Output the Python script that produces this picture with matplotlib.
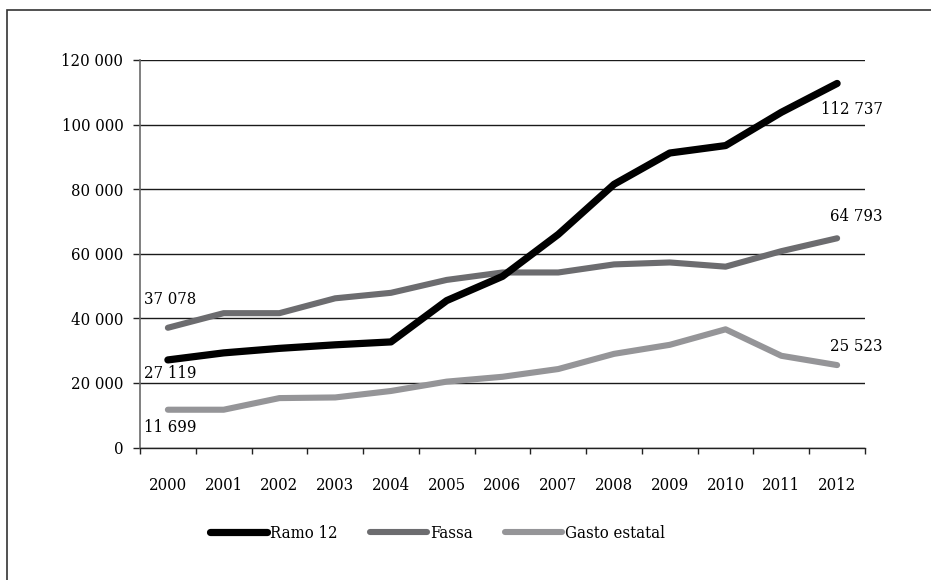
import matplotlib
matplotlib.use("Agg")
import matplotlib.pyplot as plt
from matplotlib.patches import Rectangle

# data (pesos, thousands)
years = [str(y) for y in range(2000, 2013)]
ramo12 = [27119, 29300, 30700, 31800, 32700, 45500, 53000, 66000, 81500, 91200, 93500, 103800, 112737]
fassa = [37078, 41600, 41600, 46200, 47900, 51900, 54200, 54200, 56700, 57300, 56000, 60800, 64793]
gasto = [11699, 11699, 15300, 15500, 17500, 20400, 21900, 24300, 29000, 31800, 36600, 28400, 25523]
y_ticks = [0, 20000, 40000, 60000, 80000, 100000, 120000]

plt.rcParams['font.family'] = ['DejaVu Serif']
plt.rcParams['font.stretch'] = 'condensed'
plt.rcParams['font.size'] = 12

fig = plt.figure(figsize=(9.31, 5.8), dpi=100)
ax = fig.add_axes([140 / 931, 1 - 447.5 / 580, 725 / 931, 387.5 / 580])

x = list(range(len(years)))
l1, = ax.plot(x, ramo12, color='black', lw=5.2, solid_capstyle='round', solid_joinstyle='round', label='Ramo 12', zorder=5)
l2, = ax.plot(x, fassa, color='#6c6c6f', lw=4.4, solid_capstyle='round', solid_joinstyle='round', label='Fassa', zorder=4)
l3, = ax.plot(x, gasto, color='#959598', lw=4.4, solid_capstyle='round', solid_joinstyle='round', label='Gasto estatal', zorder=3)

ax.set_xlim(-0.5, len(years) - 0.5)
ax.set_ylim(0, 120000)
ax.set_yticks(y_ticks)
ax.set_yticklabels([f"{v:,}".replace(",", " ") for v in y_ticks])
ax.yaxis.grid(True, color='#1a1a1a', lw=1.0)
ax.set_axisbelow(True)

# category boundaries get the tick marks, labels sit in the middle
ax.set_xticks([i - 0.5 for i in range(len(years) + 1)])
ax.set_xticklabels([])
ax.set_xticks(x, minor=True)
ax.set_xticklabels(years, minor=True)
ax.tick_params(axis='x', which='major', direction='out', length=4.5, width=1, color='#222222')
ax.tick_params(axis='x', which='minor', length=0, pad=21)
ax.tick_params(axis='y', direction='out', length=5, width=1, color='#222222', pad=7)

for s in ['top', 'right']:
    ax.spines[s].set_visible(False)
ax.spines['left'].set_color('#6a6a6a')
ax.spines['left'].set_linewidth(1.2)
ax.spines['bottom'].set_color('#222222')
ax.spines['bottom'].set_linewidth(1.0)

def fmt(v):
    return f"{v:,}".replace(",", " ")

# end-point labels
ax.annotate(fmt(fassa[0]), (0, fassa[0]), xytext=(-17, 20), textcoords='offset points', ha='left', va='center')
ax.annotate(fmt(ramo12[0]), (0, ramo12[0]), xytext=(-17, -9.5), textcoords='offset points', ha='left', va='center')
ax.annotate(fmt(gasto[0]), (0, gasto[0]), xytext=(-17, -12.5), textcoords='offset points', ha='left', va='center')
ax.annotate(fmt(ramo12[-1]), (12, ramo12[-1]), xytext=(33, -18.5), textcoords='offset points', ha='right', va='center')
ax.annotate(fmt(fassa[-1]), (12, fassa[-1]), xytext=(33, 16), textcoords='offset points', ha='right', va='center')
ax.annotate(fmt(gasto[-1]), (12, gasto[-1]), xytext=(33, 13.5), textcoords='offset points', ha='right', va='center')

fig.legend(handles=[l1, l2, l3], loc='center left', bbox_to_anchor=(210 / 931, 1 - 533 / 580),
           ncol=3, frameon=False, handlelength=3.4, handletextpad=0.2, columnspacing=1.95,
           borderaxespad=0, borderpad=0)

# outer frame
fig.patches.append(Rectangle((7 / 931, -0.05), 1.0, 1 - 10 / 580 + 0.05, transform=fig.transFigure,
                             fill=False, edgecolor='#333333', lw=1.2))

fig.savefig('out.png', dpi=100)
